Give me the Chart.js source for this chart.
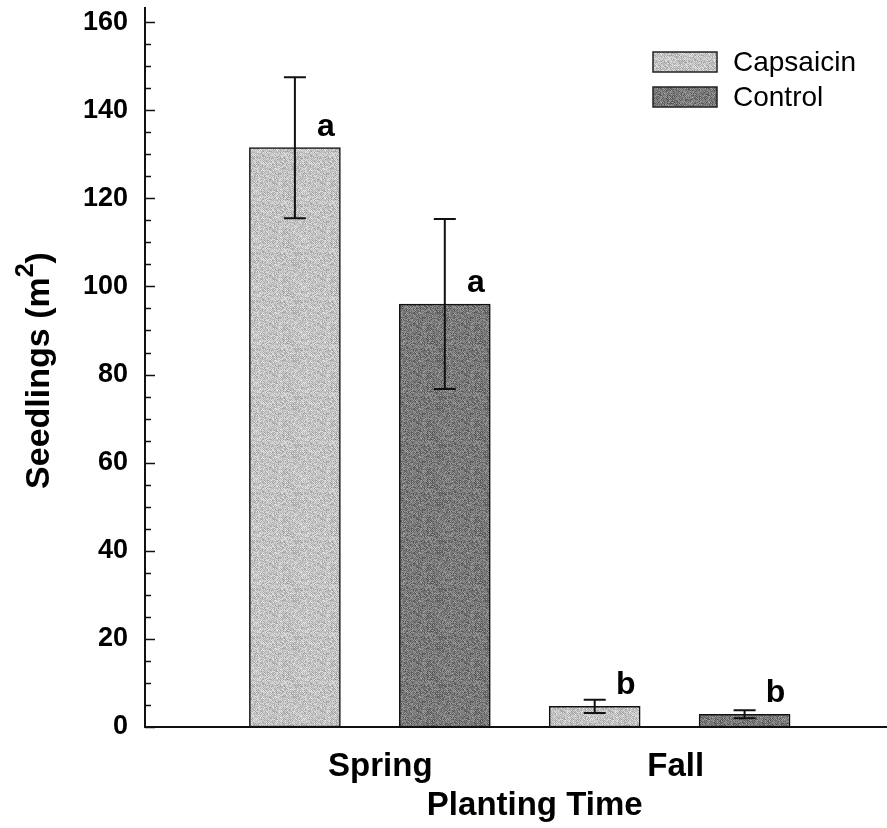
<!DOCTYPE html>
<html>
<head>
<meta charset="utf-8">
<script src="https://cdn.jsdelivr.net/npm/chart.js@4.4.1/dist/chart.umd.min.js"></script>
<style>
  html, body { margin: 0; padding: 0; background: #fff; }
</style>
</head>
<body>
<canvas id="chart" width="887" height="828"></canvas>
<script>
// seedling counts per planting season
const seasons = ['Spring', 'Fall'];
const capsaicinMean = [131.5, 4.7];
const capsaicinErr = [16.0, 1.5];
const capsaicinLetters = ['a', 'b'];
const controlMean = [96.0, 2.9];
const controlErr = [19.3, 0.9];
const controlLetters = ['a', 'b'];
const yTicks = [0, 20, 40, 60, 80, 100, 120, 140, 160];

const FONT = '"Liberation Sans", Arial, sans-serif';

// grainy grey fill, like a photocopied stipple
function stipple(base, spread) {
    const size = 48;
    const c = document.createElement('canvas');
    c.width = c.height = size;
    const g = c.getContext('2d');
    const img = g.createImageData(size, size);
    for (let y = 0; y < size; y++) {
        for (let x = 0; x < size; x++) {
            const h = Math.sin(x * 12.9898 + y * 78.233) * 43758.5453;
            const n = h - Math.floor(h);
            const dither = (x + y) % 2 === 0 ? -12 : 12;
            const v = Math.max(0, Math.min(255, Math.round(base + (n - 0.5) * spread + dither)));
            const k = (y * size + x) * 4;
            img.data[k] = img.data[k + 1] = img.data[k + 2] = v;
            img.data[k + 3] = 255;
        }
    }
    g.putImageData(img, 0, 0);
    return g.createPattern(c, 'repeat');
}

// bar slot along the x axis: Spring-Capsaicin 1, Spring-Control 2, Fall-Capsaicin 3, Fall-Control 4
function points(means, series) {
    return means.map((m, i) => ({ x: 1 + 2 * i + series, y: m }));
}

const datasets = [
    {
        label: 'Capsaicin',
        data: points(capsaicinMean, 0),
        errors: capsaicinErr,
        letters: capsaicinLetters,
        backgroundColor: stipple(194, 60)
    },
    {
        label: 'Control',
        data: points(controlMean, 1),
        errors: controlErr,
        letters: controlLetters,
        backgroundColor: stipple(120, 70)
    }
];

// inward major/minor ticks on the y axis
const inwardTicks = {
    id: 'inwardTicks',
    afterDraw(chart) {
        const { ctx, chartArea, scales: { y } } = chart;
        ctx.save();
        ctx.strokeStyle = '#111';
        ctx.lineWidth = 1.5;
        for (let v = 0; v <= 160; v += 5) {
            const py = Math.round(y.getPixelForValue(v)) + 0.5;
            const len = v % 20 === 0 ? 10 : 6;
            ctx.beginPath();
            ctx.moveTo(chartArea.left, py);
            ctx.lineTo(chartArea.left + len, py);
            ctx.stroke();
        }
        ctx.restore();
    }
};

// standard error whiskers plus the significance letters
const errorBars = {
    id: 'errorBars',
    afterDatasetsDraw(chart) {
        const { ctx, scales: { y } } = chart;
        ctx.save();
        ctx.strokeStyle = '#111';
        ctx.lineWidth = 2;
        chart.data.datasets.forEach((ds, di) => {
            chart.getDatasetMeta(di).data.forEach((bar, i) => {
                const m = ds.data[i].y;
                const e = ds.errors[i];
                const top = y.getPixelForValue(m + e);
                const bot = y.getPixelForValue(m - e);
                ctx.beginPath();
                ctx.moveTo(bar.x, top);
                ctx.lineTo(bar.x, bot);
                ctx.moveTo(bar.x - 11, top);
                ctx.lineTo(bar.x + 11, top);
                ctx.moveTo(bar.x - 11, bot);
                ctx.lineTo(bar.x + 11, bot);
                ctx.stroke();

                ctx.fillStyle = '#000';
                ctx.font = 'bold 32px ' + FONT;
                ctx.textAlign = 'center';
                ctx.textBaseline = 'alphabetic';
                ctx.fillText(ds.letters[i], bar.x + 31, bar.y - 12);
            });
        });
        ctx.restore();
    }
};

// legend in the upper right corner of the plot
const boxLegend = {
    id: 'boxLegend',
    afterDraw(chart) {
        const { ctx } = chart;
        ctx.save();
        chart.data.datasets.forEach((ds, i) => {
            const top = 52 + i * 35;
            ctx.fillStyle = ds.backgroundColor;
            ctx.fillRect(653, top, 64, 20);
            ctx.strokeStyle = '#222';
            ctx.lineWidth = 1.5;
            ctx.strokeRect(653, top, 64, 20);
            ctx.fillStyle = '#000';
            ctx.font = '28px ' + FONT;
            ctx.textAlign = 'left';
            ctx.textBaseline = 'middle';
            ctx.fillText(ds.label, 733, top + 11);
        });
        ctx.restore();
    }
};

// axis titles (the y one carries a raised "2")
const axisTitles = {
    id: 'axisTitles',
    afterDraw(chart) {
        const { ctx, chartArea, scales: { x } } = chart;
        ctx.save();
        ctx.fillStyle = '#000';
        ctx.textBaseline = 'middle';

        ctx.font = 'bold 33px ' + FONT;
        ctx.textAlign = 'center';
        ctx.fillText('Planting Time', x.getPixelForValue(2.6), 806);

        const main = 'Seedlings (m';
        const sup = '2';
        const close = ')';
        ctx.font = 'bold 34px ' + FONT;
        const wMain = ctx.measureText(main).width;
        const wClose = ctx.measureText(close).width;
        ctx.font = 'bold 25px ' + FONT;
        const wSup = ctx.measureText(sup).width;
        const total = wMain + wSup + wClose;

        ctx.translate(40, (chartArea.top + chartArea.bottom) / 2 + 3);
        ctx.rotate(-Math.PI / 2);
        ctx.textAlign = 'left';
        let cx = -total / 2;
        ctx.font = 'bold 34px ' + FONT;
        ctx.fillText(main, cx, 0);
        cx += wMain;
        ctx.font = 'bold 25px ' + FONT;
        ctx.fillText(sup, cx, -14);
        cx += wSup;
        ctx.font = 'bold 34px ' + FONT;
        ctx.fillText(close, cx, 0);
        ctx.restore();
    }
};

new Chart(document.getElementById('chart'), {
    type: 'bar',
    data: { datasets: datasets },
    options: {
        responsive: false,
        animation: false,
        layout: { padding: { top: 8, right: 0, left: 0, bottom: 0 } },
        datasets: {
            bar: {
                grouped: false,
                barThickness: 91,
                borderColor: '#111',
                borderWidth: 1.5,
                borderSkipped: false
            }
        },
        plugins: {
            legend: { display: false },
            tooltip: { enabled: false }
        },
        scales: {
            x: {
                type: 'linear',
                min: 0,
                max: 4.95,
                offset: false,
                grid: { display: false, drawTicks: false },
                border: { display: true, color: '#111', width: 2 },
                afterBuildTicks: s => { s.ticks = seasons.map((_, i) => ({ value: 1.57 + 1.97 * i })); },
                afterFit: s => { s.height = 101; s.paddingLeft = 0; s.paddingRight = 0; },
                ticks: {
                    autoSkip: false,
                    maxRotation: 0,
                    padding: 20,
                    color: '#000',
                    font: { family: FONT, size: 33, weight: 'bold' },
                    callback: (v, i) => seasons[i]
                }
            },
            y: {
                min: 0,
                max: 163.2,
                grid: { display: false, drawTicks: false },
                border: { display: true, color: '#111', width: 2 },
                afterBuildTicks: s => { s.ticks = yTicks.map(v => ({ value: v })); },
                afterFit: s => { s.width = 145; s.paddingTop = 0; s.paddingBottom = 0; },
                ticks: {
                    padding: 17,
                    color: '#000',
                    font: { family: FONT, size: 27, weight: 'bold' }
                }
            }
        }
    },
    plugins: [inwardTicks, errorBars, boxLegend, axisTitles]
});
</script>
</body>
</html>
